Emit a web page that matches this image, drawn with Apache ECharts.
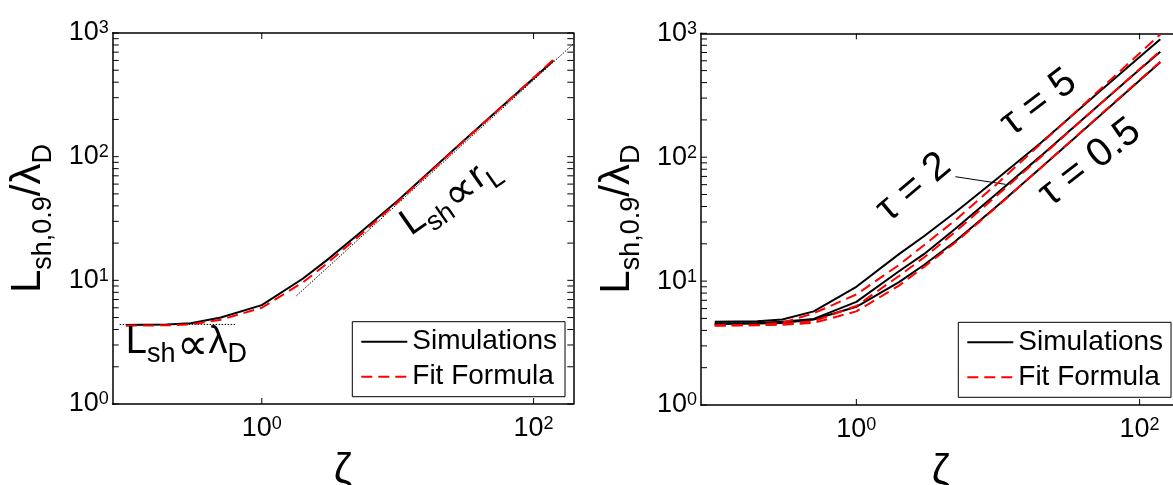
<!DOCTYPE html>
<html><head><meta charset="utf-8">
<script src="https://cdn.jsdelivr.net/npm/echarts@6/dist/echarts.min.js"></script>
<style>html,body{margin:0;padding:0;background:#fff}#c{width:1173px;height:485px}</style>
</head><body><div id="c"></div>
<script>
// ---- data ----
const zeta      = [0.1, 0.2, 0.3, 0.5, 1, 2, 3, 5, 10, 20, 30, 50, 100, 140];
const leftSim   = [4.35, 4.4, 4.5, 5.0, 6.3, 10.3, 14.5, 23, 44, 88, 132, 218, 430, 600];
const leftFit   = [4.3, 4.33, 4.4, 4.8, 6.0, 9.6, 13.6, 22, 43, 87, 131, 218, 435, 610];
const simTau05  = [4.5, 4.55, 4.6, 4.9, 6.2, 9.8, 13.5, 21, 41, 82, 123, 206, 415, 583];
const simTau2   = [4.55, 4.6, 4.7, 4.95, 6.8, 12, 16.5, 26.5, 52, 102, 153, 255, 510, 711];
const simTau5   = [4.7, 4.75, 4.9, 5.7, 9.0, 16.5, 23, 36, 68, 130, 195, 325, 645, 895];
const fitTau05  = [4.38, 4.4, 4.45, 4.6, 5.7, 9.2, 13, 20.5, 40.5, 82, 124, 208, 420, 590];
const fitTau2   = [4.38, 4.42, 4.5, 4.75, 6.3, 11, 15.5, 25, 50, 100, 152, 255, 515, 720];
const fitTau5   = [4.4, 4.45, 4.6, 5.5, 7.8, 13.5, 19.5, 31, 62, 128, 195, 335, 690, 980];
const flatAsymX  = [0.09, 0.65];
const flatAsymY  = [4.4, 4.4];
const slopeAsymX = [1.8, 196];
const slopeAsymY = [7.5, 815];
const leaderX    = [5.0, 11.3];
const leaderY    = [69.6, 60.4];
const xTicks = [1, 100];
const yLabelTicks = [1, 10, 100, 1000];
const yTicks = [1,2,3,4,5,6,7,8,9,10,20,30,40,50,60,70,80,90,100,200,300,400,500,600,700,800,900,1000];
const X_MIN = 0.08, X_MAX = 196, Y_MIN = 1, Y_MAX = 1000;
const legendNames = ['Simulations', 'Fit Formula'];

const FONT = "'Liberation Sans', Arial, Helvetica, sans-serif";
const TICK = 6;
const zip = (xs, ys) => xs.map((x, i) => [x, ys[i]]);
const expLabel = v => '{b|10}{s|' + Math.round(Math.log10(v)) + '}';

const grids = [
  {left: 112.7, top: 33, width: 460.6, height: 371, outerBoundsMode: 'none', containLabel: false},
  {left: 701, top: 33.3, width: 480, height: 371.7, outerBoundsMode: 'none', containLabel: false}
];

function xAxes(gi) {
  const line = {lineStyle: {color: '#000', width: 1.5}};
  return [
    {gridIndex: gi, type: 'log', min: X_MIN, max: X_MAX, position: 'bottom',
     axisLine: line, splitLine: {show: false}, axisTick: {show: false},
     axisLabel: {customValues: xTicks, formatter: expLabel, margin: 11,
       rich: {b: {fontSize: 27, lineHeight: 27, fontFamily: FONT, color: '#000', padding: [8, 0, 0, 0], verticalAlign: 'bottom'},
              s: {fontSize: 18, lineHeight: 18, fontFamily: FONT, color: '#000', verticalAlign: 'top'}}},
     name: 'ζ', nameLocation: 'middle', nameGap: 46,
     nameTextStyle: {fontSize: 42, fontFamily: FONT, color: '#000'}},
    {gridIndex: gi, type: 'log', min: X_MIN, max: X_MAX, position: 'top',
     axisLine: line, splitLine: {show: false}, axisLabel: {show: false}, axisTick: {show: false}}
  ];
}
function yAxes(gi) {
  const line = {lineStyle: {color: '#000', width: 1.5}};
  return [
    {gridIndex: gi, type: 'log', min: Y_MIN, max: Y_MAX, position: 'left',
     axisLine: line, splitLine: {show: false}, axisTick: {show: false},
     axisLabel: {customValues: yLabelTicks, formatter: expLabel, margin: 4,
       rich: {b: {fontSize: 27, lineHeight: 27, fontFamily: FONT, color: '#000', padding: [8, 0, 8, 0], verticalAlign: 'middle'},
              s: {fontSize: 18, lineHeight: 18, fontFamily: FONT, color: '#000', verticalAlign: 'top'}}},
     name: '{m|L}{s|sh,0.9}{m|/λ}{s|D}', nameLocation: 'middle', nameRotate: 90, nameGap: 56,
     nameTextStyle: {rich: {
       m: {fontSize: 42, lineHeight: 42, fontFamily: FONT, color: '#000', padding: [0, 0, 7, 0], verticalAlign: 'bottom'},
       s: {fontSize: 27, lineHeight: 27, fontFamily: FONT, color: '#000', verticalAlign: 'bottom'}}}},
    {gridIndex: gi, type: 'log', min: Y_MIN, max: Y_MAX, position: 'right',
     axisLine: line, splitLine: {show: false}, axisLabel: {show: false}, axisTick: {show: false}}
  ];
}

// inside tick marks on all four sides, placed through the axes' own scales
function tickSeries(xi, yi, values, vertical) {
  return {
    type: 'custom', xAxisIndex: xi, yAxisIndex: yi, silent: true, clip: false, z: 5,
    data: values.map(v => vertical ? [X_MIN, v] : [v, Y_MIN]),
    renderItem: function (params, api) {
      const cs = params.coordSys;
      const p = api.coord([api.value(0), api.value(1)]);
      const st = {stroke: '#000', lineWidth: 1};
      if (vertical) {
        return {type: 'group', children: [
          {type: 'line', shape: {x1: cs.x, y1: p[1], x2: cs.x + TICK, y2: p[1]}, style: st},
          {type: 'line', shape: {x1: cs.x + cs.width - TICK, y1: p[1], x2: cs.x + cs.width, y2: p[1]}, style: st}
        ]};
      }
      return {type: 'group', children: [
        {type: 'line', shape: {x1: p[0], y1: cs.y + cs.height, x2: p[0], y2: cs.y + cs.height - TICK}, style: st},
        {type: 'line', shape: {x1: p[0], y1: cs.y, x2: p[0], y2: cs.y + TICK}, style: st}
      ]};
    }
  };
}

const simStyle = {color: '#000', width: 2};
const fitStyle = {color: '#ff0000', width: 2, type: [11, 6]};
function curve(name, xi, yi, xs, ys, style) {
  return {name: name, type: 'line', xAxisIndex: xi, yAxisIndex: yi, data: zip(xs, ys),
    symbol: 'none', lineStyle: style, itemStyle: {color: style.color}, silent: true, z: style.type ? 3 : 2};
}
function guide(xi, yi, xs, ys, dash) {
  return {type: 'line', xAxisIndex: xi, yAxisIndex: yi, data: zip(xs, ys), symbol: 'none', silent: true,
    lineStyle: {color: '#000', width: 1, type: dash}, z: 1};
}

const legendBase = {
  orient: 'vertical', itemWidth: 46, itemHeight: 14, itemGap: 7, padding: [6, 8, 6, 8],
  borderColor: '#000', borderWidth: 1, backgroundColor: '#fff', borderRadius: 0,
  itemStyle: {opacity: 0, borderWidth: 0},
  textStyle: {fontSize: 28, fontFamily: FONT, color: '#000'},
  data: legendNames, selectedMode: false
};

const option = {
  animation: false,
  backgroundColor: '#fff',
  grid: grids,
  xAxis: [...xAxes(0), ...xAxes(1)],
  yAxis: [...yAxes(0), ...yAxes(1)],
  legend: [
    Object.assign({}, legendBase, {left: 352.3, top: 321.7}),
    Object.assign({}, legendBase, {left: 958.3, top: 322.3})
  ],
  series: [
    guide(0, 0, flatAsymX, flatAsymY, [1.5, 1.5]),
    guide(0, 0, slopeAsymX, slopeAsymY, [1.5, 1.5]),
    curve('Simulations', 0, 0, zeta, leftSim, simStyle),
    curve('Fit Formula', 0, 0, zeta, leftFit, fitStyle),
    curve('Simulations', 2, 2, zeta, simTau05, simStyle),
    curve('Simulations', 2, 2, zeta, simTau2, simStyle),
    curve('Simulations', 2, 2, zeta, simTau5, simStyle),
    curve('Fit Formula', 2, 2, zeta, fitTau05, fitStyle),
    curve('Fit Formula', 2, 2, zeta, fitTau2, fitStyle),
    curve('Fit Formula', 2, 2, zeta, fitTau5, fitStyle),
    guide(2, 2, leaderX, leaderY, 'solid'),
    tickSeries(0, 0, yTicks, true),
    tickSeries(0, 0, xTicks, false),
    tickSeries(2, 2, yTicks, true),
    tickSeries(2, 2, xTicks, false)
  ]
};

const chart = echarts.init(document.getElementById('c'), null, {renderer: 'canvas'});
chart.setOption(option);

// ---- text annotations anchored at data coordinates ----
const annRich = {
  m: {fontSize: 38, lineHeight: 38, fontFamily: FONT, fill: '#000', padding: [0, 0, 7, 0], verticalAlign: 'bottom'},
  p: {fontSize: 44, lineHeight: 30, fontFamily: FONT, fill: '#000', padding: [0, 1, 0, 1], verticalAlign: 'bottom'},
  s: {fontSize: 27, lineHeight: 27, fontFamily: FONT, fill: '#000', verticalAlign: 'bottom'},
  t: {fontSize: 40, lineHeight: 40, fontFamily: FONT, fill: '#000'}
};
const annotations = [
  {grid: 0, at: [0.1, 1.94], rot: 0, text: '{m|L}{s|sh}{p|∝}{m|λ}{s|D}'},
  {grid: 0, at: [14.5, 17.9], rot: 35, text: '{m|L}{s|sh}{p|∝}{m|r}{s|L}'},
  {grid: 1, at: [1.86, 26], rot: 40, text: '{t|τ = 2}'},
  {grid: 1, at: [13.7, 128], rot: 37, text: '{t|τ = 5}'},
  {grid: 1, at: [25.7, 34.6], rot: 38, text: '{t|τ = 0.5}'}
];
chart.setOption({
  graphic: annotations.map(a => {
    const p = chart.convertToPixel({gridIndex: a.grid}, a.at);
    return {type: 'text', x: p[0], y: p[1], rotation: a.rot * Math.PI / 180, silent: true, z: 10,
      style: {text: a.text, rich: annRich, align: 'left', verticalAlign: 'bottom', fill: '#000'}};
  })
});
</script></body></html>
